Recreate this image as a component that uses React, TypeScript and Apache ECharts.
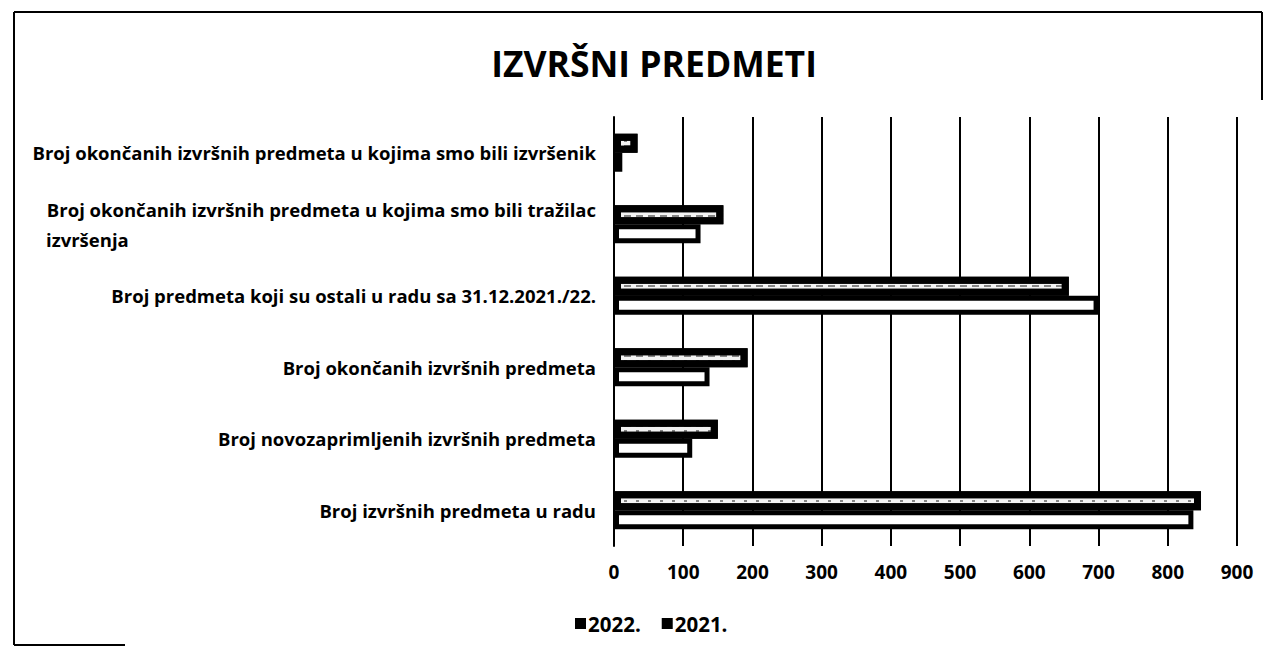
import React, { useEffect, useRef } from "react";
import * as echarts from "echarts";

const title = "IZVRŠNI PREDMETI";
const categories = [
  "Broj izvršnih predmeta u radu",
  "Broj novozaprimljenih izvršnih predmeta",
  "Broj okončanih izvršnih predmeta",
  "Broj predmeta koji su ostali u radu sa 31.12.2021./22.",
  "Broj okončanih izvršnih predmeta u kojima smo bili tražilac\nizvršenja",
  "Broj okončanih izvršnih predmeta u kojima smo bili izvršenik",
];
const seriesNames = ["2022.", "2021."];
const values2022 = [848, 150, 193, 657, 158, 34];
const values2021 = [837, 113, 138, 700, 125, 12];
const xTicks = { min: 0, max: 900, interval: 100 };

const FONT = "Open Sans";
const FS = 18.5;

export default function App() {
  const ref = useRef<HTMLDivElement>(null);
  useEffect(() => {
    if (!ref.current) return;
    const chart = echarts.init(ref.current, null, { renderer: "svg" });
    const ctx = document.createElement("canvas").getContext("2d")!;
    ctx.font = `bold ${FS}px "${FONT}"`;

    const labelFormatter = (v: string) => {
      const lines = v.split("\n");
      if (lines.length === 1) return `{a|${v}}`;
      return `{a|${lines[0]}}\n{b|${lines[1]}}`;
    };
    const firstMulti = categories.find((c) => c.includes("\n"));
    const multiW = firstMulti ? Math.ceil(ctx.measureText(firstMulti.split("\n")[0]).width) : 0;

    chart.setOption({
      animation: false,
      backgroundColor: "#fff",
      title: {
        text: title,
        left: 649,
        textAlign: "center",
        top: 40,
        textStyle: { fontFamily: FONT, fontWeight: "bold", fontSize: 35.5, color: "#000" },
      },
      legend: {
        bottom: 10,
        left: 570,
        icon: "rect",
        itemWidth: 11,
        itemHeight: 11,
        itemGap: 21,
        textStyle: { fontFamily: FONT, fontWeight: "bold", fontSize: 20.5, color: "#000", padding: [0, 0, 0, -3] },
        data: seriesNames.map((n) => ({ name: n, itemStyle: { color: "#000", borderWidth: 0, decal: "none" } })),
      },
      grid: { left: 614, right: 37, top: 117, bottom: 103, containLabel: false },
      xAxis: {
        type: "value",
        min: xTicks.min,
        max: xTicks.max,
        interval: xTicks.interval,
        axisLine: { show: false },
        axisTick: { show: false },
        splitLine: { show: true, lineStyle: { color: "#000", width: 2 } },
        axisLabel: { margin: 16, fontFamily: FONT, fontWeight: "bold", fontSize: 19, color: "#000" },
      },
      yAxis: {
        type: "category",
        data: categories,
        axisLine: { show: true, lineStyle: { color: "#000", width: 2 } },
        axisTick: { show: false },
        axisLabel: {
          margin: 18,
          formatter: labelFormatter,
          rich: {
            a: { fontFamily: FONT, fontWeight: "bold", fontSize: FS, color: "#000", lineHeight: 30 },
            b: { fontFamily: FONT, fontWeight: "bold", fontSize: FS, color: "#000", lineHeight: 30, width: multiW, align: "left" },
          },
        },
      },
      series: [
        {
          name: seriesNames[0],
          type: "bar",
          data: values2022,
          barWidth: 19,
          barGap: "0%",
          itemStyle: {
            color: "#f2f2f2",
            borderColor: "#000",
            borderWidth: 7,
            decal: {
              symbol: "rect",
              symbolSize: 1,
              dashArrayX: [[7, 5], [3, 9]],
              dashArrayY: [2, 3],
              color: "rgba(0,0,0,0.45)",
              backgroundColor: "#f2f2f2",
            },
          },
        },
        {
          name: seriesNames[1],
          type: "bar",
          data: values2021,
          barWidth: 19,
          barGap: "0%",
          itemStyle: { color: "#fff", borderColor: "#000", borderWidth: 5 },
        },
      ],
      graphic: [
        { type: "line", shape: { x1: 14, y1: 12, x2: 1262, y2: 12 }, style: { stroke: "#000", lineWidth: 2 } },
        { type: "line", shape: { x1: 14, y1: 12, x2: 14, y2: 645 }, style: { stroke: "#000", lineWidth: 2 } },
        { type: "line", shape: { x1: 1262, y1: 12, x2: 1262, y2: 100 }, style: { stroke: "#000", lineWidth: 2 } },
        { type: "line", shape: { x1: 14, y1: 645, x2: 125, y2: 645 }, style: { stroke: "#000", lineWidth: 2 } },
      ],
    });
    return () => chart.dispose();
  }, []);
  return <div ref={ref} style={{ width: 1274, height: 649, position: "absolute", left: 0, top: 0 }} />;
}
